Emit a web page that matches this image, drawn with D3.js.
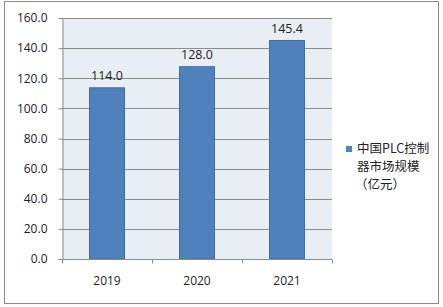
<!DOCTYPE html>
<html>
<head>
<meta charset="utf-8">
<script src="https://cdn.jsdelivr.net/npm/d3@7"></script>
<style>
  body { margin: 0; background: #fff; }
  text { font-family: "Open Sans", "Noto Sans CJK SC", sans-serif; fill: #222; }
</style>
</head>
<body>
<svg id="chart" width="443" height="307"></svg>
<script>
const years = ['2019', '2020', '2021'];
const marketSize = [114.0, 128.0, 145.4];
const yTicks = [0, 20, 40, 60, 80, 100, 120, 140, 160];
const legendLines = ['中国PLC控制', '器市场规模', '（亿元）'];

const svg = d3.select('#chart');

// outer frame
svg.append('rect')
    .attr('x', 4.5).attr('y', 1.5)
    .attr('width', 434).attr('height', 302)
    .attr('fill', '#fff')
    .attr('stroke', '#8a8a8a');

const plot = { left: 62, right: 332, top: 18, bottom: 259 };

const x = d3.scaleBand()
    .domain(years)
    .range([plot.left, plot.right])
    .paddingInner(0.6)
    .paddingOuter(0.3);

const xEdge = d3.scalePoint()
    .domain(d3.range(years.length + 1))
    .range([plot.left, plot.right]);

const y = d3.scaleLinear()
    .domain([0, 160])
    .range([plot.bottom, plot.top]);

// plot background
svg.append('rect')
    .attr('x', plot.left).attr('y', plot.top)
    .attr('width', plot.right - plot.left)
    .attr('height', plot.bottom - plot.top)
    .attr('fill', '#e9edf4');

// gridlines
svg.append('g')
    .selectAll('line')
    .data(yTicks.filter(d => d > 0))
    .join('line')
    .attr('x1', plot.left).attr('x2', plot.right)
    .attr('y1', d => Math.round(y(d)) + 0.5)
    .attr('y2', d => Math.round(y(d)) + 0.5)
    .attr('stroke', '#8c8c8c');

// y axis
const yAxis = svg.append('g')
    .attr('transform', `translate(${plot.left + 0.5},0)`)
    .call(d3.axisLeft(y).tickValues(yTicks).tickFormat(d3.format('.1f')).tickSize(4).tickPadding(11));
yAxis.select('.domain').attr('stroke', '#8c8c8c');
yAxis.selectAll('.tick line').attr('stroke', '#8c8c8c');
yAxis.selectAll('.tick text')
    .attr('font-size', 12)
    .attr('fill', '#222')
    .style('font-family', '"Open Sans", sans-serif');

// bars
svg.append('g')
    .selectAll('rect')
    .data(marketSize)
    .join('rect')
    .attr('x', (d, i) => x(years[i]) + 0.5)
    .attr('y', d => y(d) + 0.5)
    .attr('width', x.bandwidth() - 1)
    .attr('height', d => plot.bottom - y(d) - 0.5)
    .attr('fill', '#4f81bd')
    .attr('stroke', '#3f6ea6')
    .attr('stroke-width', 1);

// value labels
svg.append('g')
    .selectAll('text')
    .data(marketSize)
    .join('text')
    .attr('x', (d, i) => x(years[i]) + x.bandwidth() / 2)
    .attr('y', d => y(d) - 7)
    .attr('text-anchor', 'middle')
    .attr('font-size', 12.5)
    .text(d => d.toFixed(1));

// x axis
const xAxisY = Math.round(plot.bottom) + 0.5;
svg.append('line')
    .attr('x1', plot.left).attr('x2', plot.right)
    .attr('y1', xAxisY).attr('y2', xAxisY)
    .attr('stroke', '#8c8c8c');
svg.append('g')
    .selectAll('line')
    .data(xEdge.domain())
    .join('line')
    .attr('x1', d => Math.round(xEdge(d)) + 0.5)
    .attr('x2', d => Math.round(xEdge(d)) + 0.5)
    .attr('y1', xAxisY).attr('y2', xAxisY + 4)
    .attr('stroke', '#8c8c8c');
svg.append('g')
    .selectAll('text')
    .data(years)
    .join('text')
    .attr('x', d => x(d) + x.bandwidth() / 2)
    .attr('y', 285)
    .attr('text-anchor', 'middle')
    .attr('font-size', 12)
    .text(d => d);

// legend
const legend = svg.append('g');
legend.append('rect')
    .attr('x', 346).attr('y', 146)
    .attr('width', 6).attr('height', 6)
    .attr('fill', '#4f81bd');
legend.selectAll('text')
    .data(legendLines)
    .join('text')
    .attr('x', (d, i) => i === 2 ? 355 : 357)
    .attr('y', (d, i) => 153 + i * 18)
    .attr('font-size', 12.5)
    .style('font-family', '"Noto Sans CJK SC", sans-serif')
    .text(d => d);
</script>
</body>
</html>
